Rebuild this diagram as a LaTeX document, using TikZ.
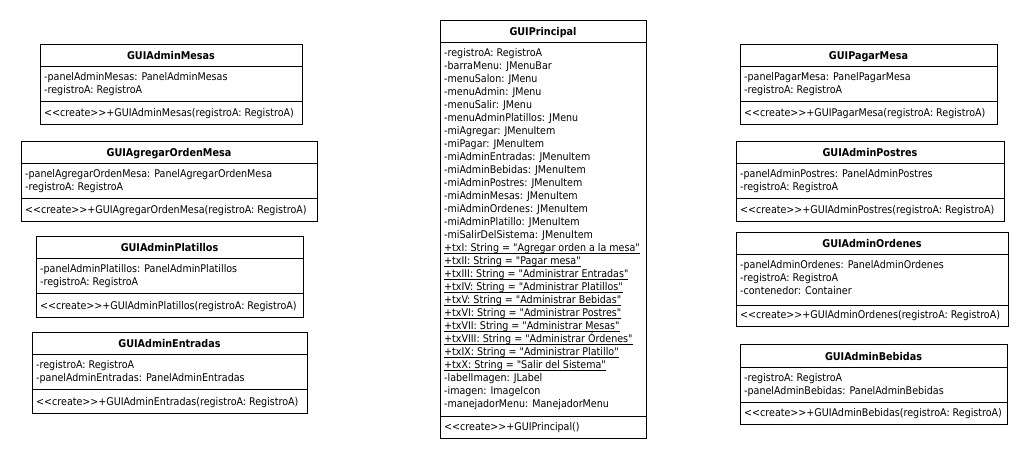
\documentclass[tikz,border=0pt]{standalone}
\usepackage{fontspec}
\setmainfont{DejaVu Sans Condensed}[Ligatures=TeXOff]
\newcommand{\guil}[1]{<\kern0pt<#1>\kern0pt>}
\newcommand{\stat}[1]{\setbox0\hbox{#1}\rlap{\rule[-2.5pt]{\wd0}{0.9pt}}\box0}
\newcommand{\umlops}{}
% #1 name, #2 x1, #3 x2, #4 top, #5 title divider, #6 attribute divider, #7 bottom, #8 title, #9 attributes
\newcommand{\umlclass}[9]{%
  \node[umlbox, minimum width={#3-#2}, minimum height={#7-#4}, anchor=north west] (#1) at (#2,#4) {};
  \draw[umlline] (#2,#5) -- (#3,#5);
  \draw[umlline] (#2,#6) -- (#3,#6);
  \node[umltitle] (#1-title) at ({(#2+#3)/2},{#5-7}) {#8};
  \foreach \a [count=\i] in {#9} {
    \node[umltext] (#1-a\i) at ({#2+4},{#5+14+13*(\i-1)}) {\a};
  }
  \node[umltext] (#1-op) at ({#2+4},{#7-7.5}) {\umlops};
}
\begin{document}
\begin{tikzpicture}[x=1pt,y=-1pt,
  umlbox/.style={draw=black, line width=1pt, fill=white, inner sep=0pt},
  umlline/.style={draw=black, line width=1pt},
  umltitle/.style={anchor=base, inner sep=0pt, font=\fontsize{10.7}{13}\selectfont\bfseries},
  umltext/.style={anchor=base west, inner sep=0pt, font=\fontsize{10.6}{13}\selectfont}]
\useasboundingbox[fill=white] (0,0) rectangle (1030,459);

\renewcommand{\umlops}{\guil{create}+GUIAdminMesas(registroA: RegistroA)}
\umlclass{mesas}{40}{302}{44}{66}{101}{124}{GUIAdminMesas}{-panelAdminMesas: PanelAdminMesas, -registroA: RegistroA}

\renewcommand{\umlops}{\guil{create}+GUIAgregarOrdenMesa(registroA: RegistroA)}
\umlclass{agregar}{21}{317}{141}{163}{198}{221}{GUIAgregarOrdenMesa}{-panelAgregarOrdenMesa: PanelAgregarOrdenMesa, -registroA: RegistroA}

\renewcommand{\umlops}{\guil{create}+GUIAdminPlatillos(registroA: RegistroA)}
\umlclass{platillos}{36}{303}{236}{258}{293}{317}{GUIAdminPlatillos}{-panelAdminPlatillos: PanelAdminPlatillos, -registroA: RegistroA}

\renewcommand{\umlops}{\guil{create}+GUIAdminEntradas(registroA: RegistroA)}
\umlclass{entradas}{32}{307}{332}{354}{389}{413}{GUIAdminEntradas}{-registroA: RegistroA, -panelAdminEntradas: PanelAdminEntradas}

\renewcommand{\umlops}{\guil{create}+GUIPrincipal()}
\umlclass{principal}{440}{646}{20}{42}{416}{438}{GUIPrincipal}{-registroA: RegistroA, -barraMenu: JMenuBar, -menuSalon: JMenu, -menuAdmin: JMenu, -menuSalir: JMenu, -menuAdminPlatillos: JMenu, -miAgregar: JMenuItem, -miPagar: JMenuItem, -miAdminEntradas: JMenuItem, -miAdminBebidas: JMenuItem, -miAdminPostres: JMenuItem, -miAdminMesas: JMenuItem, -miAdminOrdenes: JMenuItem, -miAdminPlatillo: JMenuItem, -miSalirDelSistema: JMenuItem, {\stat{+txI: String = "Agregar orden a la mesa"}}, {\stat{+txII: String = "Pagar mesa"}}, {\stat{+txIII: String = "Administrar Entradas"}}, {\stat{+txIV: String = "Administrar Platillos"}}, {\stat{+txV: String = "Administrar Bebidas"}}, {\stat{+txVI: String = "Administrar Postres"}}, {\stat{+txVII: String = "Administrar Mesas"}}, {\stat{+txVIII: String = "Administrar Órdenes"}}, {\stat{+txIX: String = "Administrar Platillo"}}, {\stat{+txX: String = "Salir del Sistema"}}, -labelImagen: JLabel, -imagen: ImageIcon, -manejadorMenu: ManejadorMenu}

\renewcommand{\umlops}{\guil{create}+GUIPagarMesa(registroA: RegistroA)}
\umlclass{pagar}{740}{997}{44}{66}{101}{124}{GUIPagarMesa}{-panelPagarMesa: PanelPagarMesa, -registroA: RegistroA}

\renewcommand{\umlops}{\guil{create}+GUIAdminPostres(registroA: RegistroA)}
\umlclass{postres}{736}{1004}{141}{163}{198}{221}{GUIAdminPostres}{-panelAdminPostres: PanelAdminPostres, -registroA: RegistroA}

\renewcommand{\umlops}{\guil{create}+GUIAdminOrdenes(registroA: RegistroA)}
\umlclass{ordenes}{736}{1008}{232}{254}{305}{326}{GUIAdminOrdenes}{-panelAdminOrdenes: PanelAdminOrdenes, -registroA: RegistroA, -contenedor: Container}

\renewcommand{\umlops}{\guil{create}+GUIAdminBebidas(registroA: RegistroA)}
\umlclass{bebidas}{740}{1007}{344}{367}{402}{424}{GUIAdminBebidas}{-registroA: RegistroA, -panelAdminBebidas: PanelAdminBebidas}
\end{tikzpicture}
\end{document}
